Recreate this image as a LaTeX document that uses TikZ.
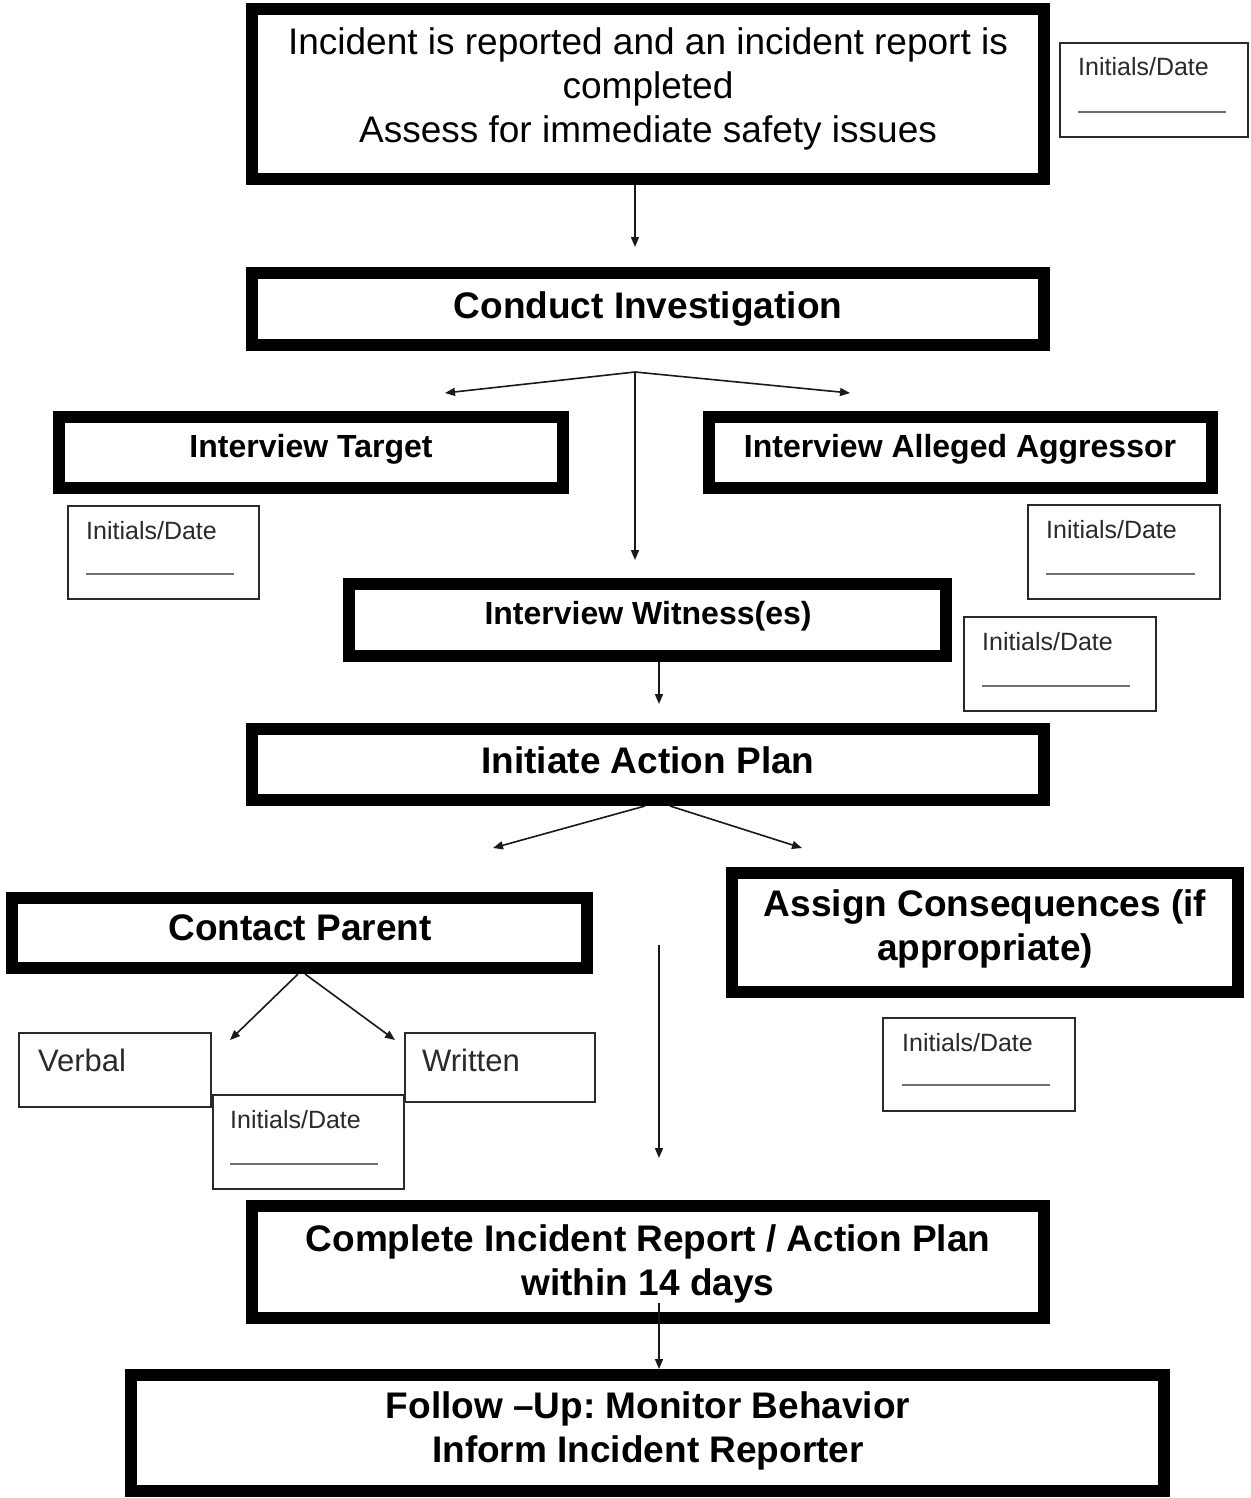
\documentclass[tikz,border=0pt]{standalone}
\usepackage{fontspec}
\setmainfont{Liberation Sans}
\usetikzlibrary{arrows.meta}
\definecolor{thin}{HTML}{2A2A2A}
\definecolor{uline}{HTML}{707070}
\frenchspacing
\begin{document}
\begin{tikzpicture}[x=1pt,y=-1pt,
  bigbox/.style={draw=black, line width=12pt, inner sep=0pt, outer sep=6pt},
  smallbox/.style={draw=thin, line width=2pt, inner sep=0pt, outer sep=1pt},
  bigtxt/.style={font=\fontsize{37}{44}\selectfont\bfseries, align=center, anchor=base, inner sep=0pt},
  midtxt/.style={font=\fontsize{32}{38}\selectfont\bfseries, anchor=base, inner sep=0pt},
  regtxt/.style={font=\fontsize{37}{44}\selectfont, align=center, anchor=base, inner sep=0pt},
  initxt/.style={font=\fontsize{25}{30}\selectfont, text=thin, anchor=base west, inner sep=0pt},
  opttxt/.style={font=\fontsize{31}{37}\selectfont, text=thin, anchor=base west, inner sep=0pt},
  uln/.style={draw=uline, line width=2pt},
  arr/.style={draw=black!90, line width=1.6pt, -{Triangle[length=10pt,width=8pt]}},
]
\useasboundingbox (0,0) rectangle (1250,1498);
\fill[white] (0,0) rectangle (1250,1498);

% thick boxes
\node[bigbox, minimum width=792pt, minimum height=170pt] (b1) at (648,94) {};
\node[bigbox, minimum width=792pt, minimum height=72pt] (b2) at (648,309) {};
\node[bigbox, minimum width=504pt, minimum height=71pt] (tgt) at (311,452.5) {};
\node[bigbox, minimum width=503pt, minimum height=71pt] (agg) at (960.5,452.5) {};
\node[bigbox, minimum width=597pt, minimum height=72pt] (wit) at (647.5,620) {};
\node[bigbox, minimum width=792pt, minimum height=71pt] (ini) at (648,764.5) {};
\node[bigbox, minimum width=575pt, minimum height=70pt] (cp) at (299.5,933) {};
\node[bigbox, minimum width=506pt, minimum height=119pt] (asg) at (985,932.5) {};
\node[bigbox, minimum width=792pt, minimum height=112pt] (cmp) at (648,1262) {};
\node[bigbox, minimum width=1033pt, minimum height=116pt] (fol) at (647.5,1433) {};

% texts in thick boxes (multi-line nodes: base = last line baseline)
\node[regtxt] (t1) at (648,143) {Incident is reported and an incident report is\\completed\\Assess for immediate safety issues};
\node[bigtxt] (t2) at (648,318) {Conduct Investigation};
\node[midtxt] (t3) at (311,457) {Interview Target};
\node[midtxt] (t4) at (960,457) {Interview Alleged Aggressor};
\node[midtxt] (t5) at (648,624) {Interview Witness(es)};
\node[bigtxt] (t6) at (648,773) {Initiate Action Plan};
\node[bigtxt] (t7) at (300,940) {Contact Parent};
\node[bigtxt] (t8) at (985,960) {Assign Consequences (if\\appropriate)};
\node[bigtxt] (t9) at (648,1295) {Complete Incident Report / Action Plan\\within 14 days};
\node[bigtxt] (t10) at (648,1462) {Follow --Up: Monitor Behavior\\Inform Incident Reporter};

% thin boxes
\node[smallbox, minimum width=188pt, minimum height=94pt] (i1) at (1154,90) {};
\node[smallbox, minimum width=191pt, minimum height=93pt] (i2) at (163.5,552.5) {};
\node[smallbox, minimum width=192pt, minimum height=94pt] (i3) at (1124,552) {};
\node[smallbox, minimum width=192pt, minimum height=94pt] (i4) at (1060,664) {};
\node[smallbox, minimum width=192pt, minimum height=74pt] (vb) at (115,1070) {};
\node[smallbox, minimum width=190pt, minimum height=69pt] (wr) at (500,1067.5) {};
\node[smallbox, minimum width=191pt, minimum height=94pt] (i5) at (308.5,1142) {};
\node[smallbox, minimum width=192pt, minimum height=93pt] (i6) at (979,1064.5) {};

% initials texts and lines
\node[initxt] (l1) at (1078,76) {Initials/Date};
\draw[uln] (1078,112) -- (1226,112);
\node[initxt] (l2) at (86,539) {Initials/Date};
\draw[uln] (86,574) -- (234,574);
\node[initxt] (l3) at (1046,538) {Initials/Date};
\draw[uln] (1046,574) -- (1195,574);
\node[initxt] (l4) at (982,650) {Initials/Date};
\draw[uln] (982,686) -- (1130,686);
\node[initxt] (l5) at (230,1128) {Initials/Date};
\draw[uln] (230,1164) -- (378,1164);
\node[initxt] (l6) at (902,1051) {Initials/Date};
\draw[uln] (902,1085) -- (1050,1085);
\node[opttxt] (vt) at (38,1071) {Verbal};
\node[opttxt] (wt) at (422,1071) {Written};

% connectors
\coordinate (a1) at (635,247);
\draw[arr] (b1.south -| a1) -- (a1);
\coordinate (f1) at (635,372);
\coordinate (f1l) at (445,393);
\coordinate (f1r) at (850,393);
\coordinate (f1d) at (635,560);
\draw[arr] (f1) -- (f1l);
\draw[arr] (f1) -- (f1r);
\draw[arr] (f1) -- (f1d);
\coordinate (a3) at (659,704);
\draw[arr] (wit.south -| a3) -- (a3);
\coordinate (a4l) at (493,848);
\coordinate (a4r) at (802,848);
\draw[arr] ([xshift=-3pt]ini.south) -- (a4l);
\draw[arr] ([xshift=22pt]ini.south) -- (a4r);
\coordinate (a5l) at (230,1040);
\coordinate (a5r) at (395,1040);
\draw[arr] ([xshift=-1.5pt]cp.south) -- (a5l);
\draw[arr] ([xshift=5.5pt]cp.south) -- (a5r);
\coordinate (m1) at (659,945);
\coordinate (m2) at (659,1158);
\draw[arr] (m1) -- (m2);
\coordinate (a7) at (659,1303);
\draw[arr] (a7) -- (a7 |- fol.north);
\end{tikzpicture}
\end{document}
